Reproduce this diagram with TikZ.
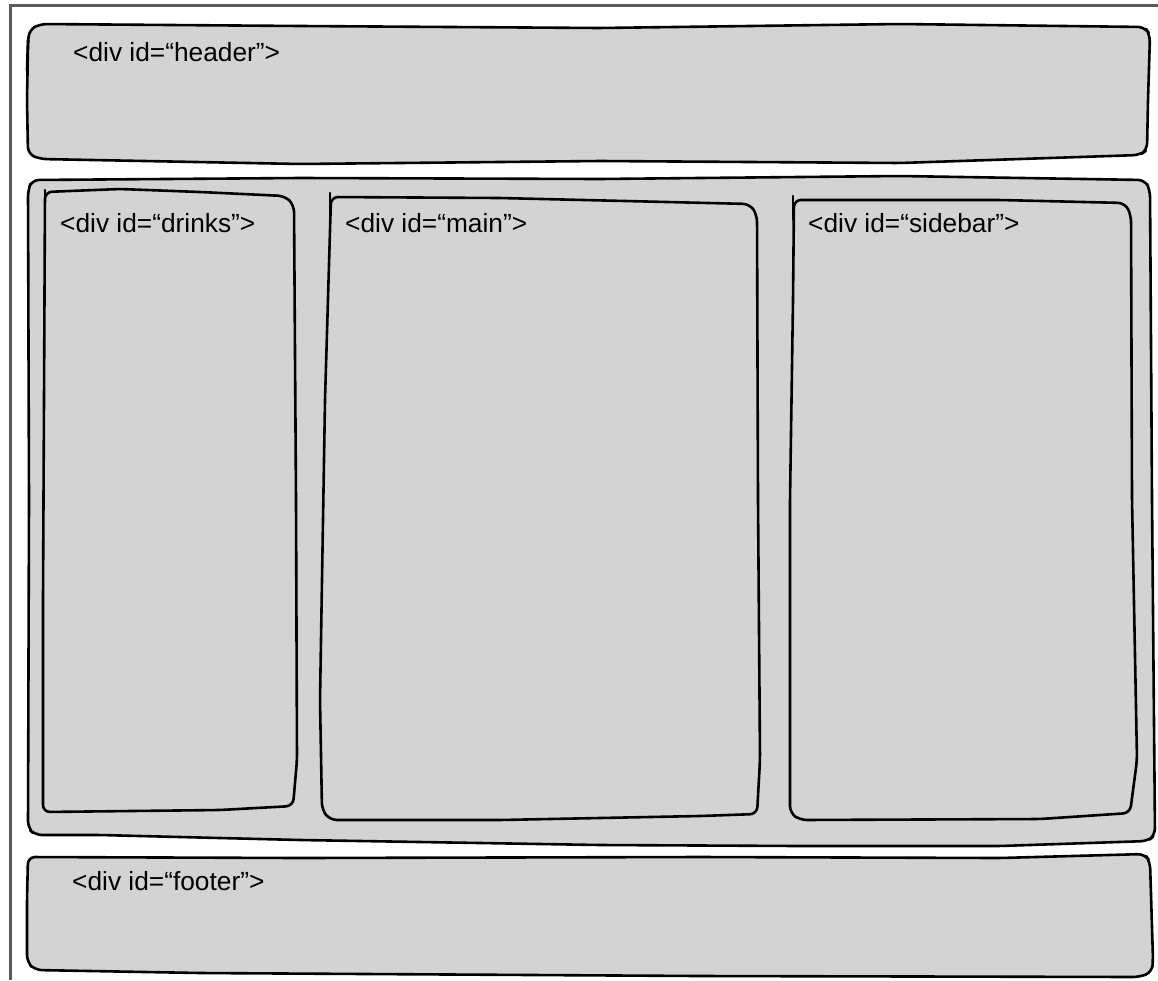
\documentclass[tikz,border=0pt]{standalone}
\usepackage{fontspec}
\setmainfont{Liberation Sans}
\definecolor{boxfill}{RGB}{211,211,211}
\definecolor{framegray}{RGB}{90,90,90}
\begin{document}
\begin{tikzpicture}[x=1pt,y=-1pt,
  sketch/.style={draw=black,fill=boxfill,line width=2.6pt,rounded corners=7pt,line join=round,line cap=round},
  tick/.style={draw=black,line width=2.6pt,line cap=round},
  label/.style={anchor=base west,inner sep=0pt,font=\fontsize{26.3}{30}\selectfont}]
\useasboundingbox (0,0) rectangle (1158,980);
\fill[white] (0,0) rectangle (1158,980);
% outer frame (top and left only)
\draw[framegray,line width=3pt] (10,980) -- (10,5) -- (1158,5);
% header
\draw[sketch] (28,45) -- (29,30) -- (40,24) -- (300,26) -- (600,28) -- (900,24) -- (1145,27) -- (1150,35) -- (1148,100) -- (1147,150) -- (1140,155) -- (900,163) -- (600,161) -- (300,164) -- (40,159) -- (28,154) -- (27,100) -- cycle;
\draw[tick] (28,40) -- (27,70);
% container
\draw[sketch] (28,190) -- (32,180) -- (300,178) -- (600,179) -- (900,176) -- (1145,180) -- (1150,190) -- (1152,500) -- (1155,835) -- (1148,841) -- (1000,846) -- (800,846) -- (600,845) -- (300,840) -- (100,835) -- (35,835) -- (28,828) -- (29,500) -- cycle;
% drinks
\draw[sketch] (45,192) -- (120,189) -- (200,192) -- (285,196) -- (294,205) -- (296,500) -- (297,760) -- (293,806) -- (220,810) -- (43,812) -- (43,600) -- (44,400) -- cycle;
\draw[tick] (45,190) -- (45,215);
% main
\draw[sketch] (331,197) -- (500,198) -- (750,204) -- (757,215) -- (758,500) -- (760,760) -- (757,814) -- (700,816) -- (500,820) -- (330,820) -- (322,810) -- (320,700) -- (325,400) -- cycle;
\draw[tick] (330,193) -- (330,220);
% sidebar
\draw[sketch] (794,200) -- (1000,200) -- (1125,203) -- (1131,215) -- (1132,500) -- (1137,760) -- (1130,813) -- (1040,819) -- (800,820) -- (790,813) -- (790,500) -- (793,300) -- cycle;
\draw[tick] (793,196) -- (793,220);
% footer
\draw[sketch] (28,857) -- (300,858) -- (700,857) -- (1000,858) -- (1145,854) -- (1150,862) -- (1153,960) -- (1152,972) -- (1140,977) -- (700,976) -- (200,973) -- (35,970) -- (27,962) -- (27,900) -- cycle;
% labels
\node[label] (header) at (73,61) {<div id=“header”>};
\node[label] (drinks) at (60,232) {<div id=“drinks”>};
\node[label] (main) at (345,232) {<div id=“main”>};
\node[label] (sidebar) at (808,232) {<div id=“sidebar”>};
\node[label] (footer) at (72,890) {<div id=“footer”>};
\end{tikzpicture}
\end{document}
